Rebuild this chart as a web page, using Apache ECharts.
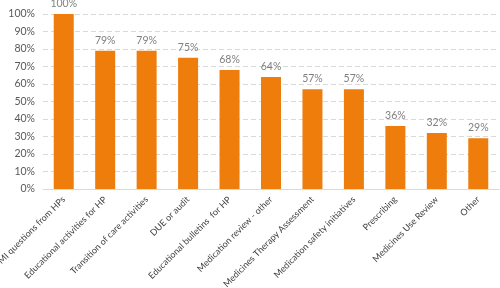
<!DOCTYPE html>
<html>
<head>
<meta charset="utf-8">
<script src="https://cdn.jsdelivr.net/npm/echarts@6/dist/echarts.min.js"></script>
<style>
  html, body { margin: 0; padding: 0; background: #fff; }
  #chart { width: 500px; height: 288px; }
</style>
</head>
<body>
<div id="chart"></div>
<script>
const categories = [
  "MI questions from HPs",
  "Educational activities for HP",
  "Transition of care activities",
  "DUE or audit",
  "Educational bulletins  for HP",
  "Medication review - other",
  "Medicines Therapy Assessment",
  "Medication safety initiatives",
  "Prescribing",
  "Medicines Use Review",
  "Other"
];
const values = [100, 79, 79, 75, 68, 64, 57, 57, 36, 32, 29];

const chart = echarts.init(document.getElementById("chart"));
const font = "Lato";

chart.setOption({
  animation: false,
  grid: { left: 43, right: 1, top: 14, bottom: 99, containLabel: false, outerBoundsMode: "none" },
  xAxis: {
    type: "category",
    data: categories,
    axisLine: { lineStyle: { color: "#d9d9d9" } },
    axisTick: { show: false },
    axisLabel: {
      interval: 0,
      rotate: 45,
      color: "#404040",
      fontFamily: font,
      fontSize: 9,
      margin: 9
    }
  },
  yAxis: {
    type: "value",
    min: 0,
    max: 100,
    interval: 10,
    axisLine: { show: false },
    axisTick: { show: false },
    axisLabel: {
      formatter: "{value}%",
      color: "#595959",
      fontFamily: font,
      fontSize: 10.5,
      margin: 8
    },
    splitLine: { lineStyle: { color: "#d9d9d9", type: [5, 3] } }
  },
  series: [
    {
      type: "bar",
      data: values,
      barWidth: 20,
      itemStyle: { color: "#ef7d0c" },
      label: {
        show: true,
        position: "top",
        formatter: "{c}%",
        color: "#7f7f7f",
        fontFamily: font,
        fontSize: 10.5,
        distance: 5
      }
    }
  ]
});
</script>
</body>
</html>
